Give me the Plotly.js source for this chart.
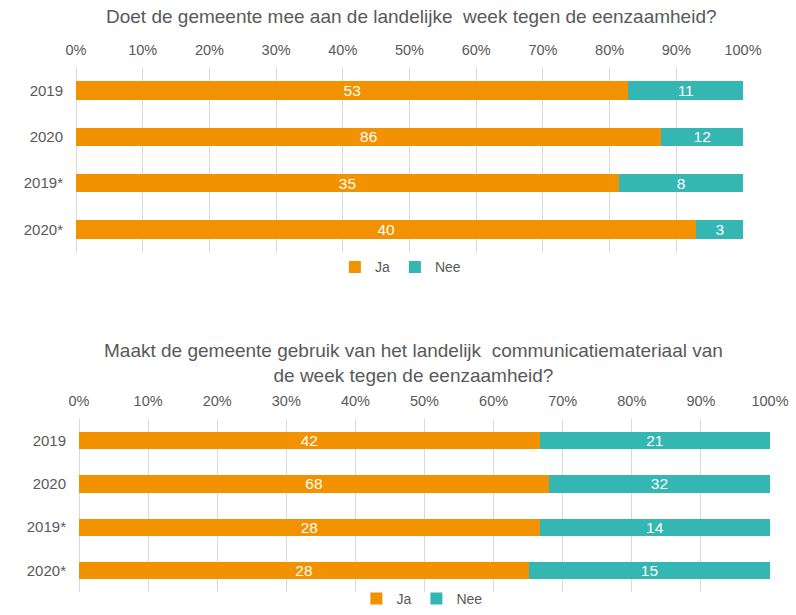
<!DOCTYPE html>
<html>
<head>
<meta charset="utf-8">
<script src="https://cdn.plot.ly/plotly-3.0.1.min.js"></script>
<style>html,body{margin:0;padding:0;background:#fff;}#chart{width:796px;height:615px;}</style>
</head>
<body>
<div id="chart"></div>
<script>
const categories = ['2019', '2020', '2019*', '2020*'];
const jaTop = [53, 86, 35, 40];
const neeTop = [11, 12, 8, 3];
const jaBottom = [42, 68, 28, 28];
const neeBottom = [21, 32, 14, 15];
const tickValues = [0, 10, 20, 30, 40, 50, 60, 70, 80, 90, 100];
const titleTop = 'Doet de gemeente mee aan de landelijke \u00a0week tegen de eenzaamheid?';
const titleBottom = 'Maakt de gemeente gebruik van het landelijk \u00a0communicatiemateriaal van<br>de week tegen de eenzaamheid?';

const ORANGE = '#F39200';
const TEAL = '#34B6B3';
const GREY = '#595959';
const FONT = "'Liberation Sans', Arial, sans-serif";

function barTrace(name, vals, color, xa, ya, legend) {
  return {
    type: 'bar', orientation: 'h', name: name,
    y: categories, x: vals,
    xaxis: xa, yaxis: ya, legend: legend,
    marker: {color: color, line: {width: 0}},
    text: vals.map(String), textposition: 'inside', insidetextanchor: 'middle', textangle: 0,
    constraintext: 'none',
    textfont: {color: '#ffffff', size: 15.5, family: FONT},
    hoverinfo: 'x+y+name'
  };
}

const data = [
  barTrace('Ja', jaTop, ORANGE, 'x', 'y', 'legend'),
  barTrace('Nee', neeTop, TEAL, 'x', 'y', 'legend'),
  barTrace('Ja', jaBottom, ORANGE, 'x2', 'y2', 'legend2'),
  barTrace('Nee', neeBottom, TEAL, 'x2', 'y2', 'legend2')
];

function xax(domain, anchor) {
  return {
    domain: domain, anchor: anchor, side: 'top', range: [0, 100],
    tickvals: tickValues, ticktext: tickValues.map(v => v + '%'),
    showgrid: true, gridcolor: '#D9D9D9', gridwidth: 1,
    zeroline: true, zerolinecolor: '#D9D9D9', zerolinewidth: 1,
    showline: false, ticks: 'outside', ticklen: 6, tickcolor: 'rgba(0,0,0,0)',
    tickfont: {size: 14.5, color: GREY, family: FONT}, fixedrange: true
  };
}
function yax(domain, anchor) {
  return {
    domain: domain, anchor: anchor, type: 'category',
    categoryorder: 'array', categoryarray: categories, autorange: 'reversed',
    showgrid: false, zeroline: false, showline: false,
    ticks: 'outside', ticklen: 9, tickcolor: 'rgba(0,0,0,0)',
    tickfont: {size: 15, color: GREY, family: FONT}, fixedrange: true
  };
}

const layout = {
  width: 796, height: 615,
  margin: {l: 0, r: 0, t: 0, b: 0},
  paper_bgcolor: '#ffffff', plot_bgcolor: '#ffffff',
  font: {family: FONT, color: GREY},
  barmode: 'stack', barnorm: 'percent', bargap: 0.6,
  showlegend: true,
  xaxis: xax([76/796, 743/796], 'y'),
  yaxis: yax([1 - 255/615, 1 - 68/615], 'x'),
  xaxis2: xax([79/796, 770/796], 'y2'),
  yaxis2: yax([1 - 598/615, 1 - 423/615], 'x2'),
  legend: {orientation: 'h', x: 0.503, xanchor: 'center', y: 1 - 270/615, yanchor: 'middle',
    font: {size: 14, color: GREY, family: FONT}, traceorder: 'normal', itemwidth: 30, bgcolor: 'rgba(0,0,0,0)'},
  legend2: {orientation: 'h', x: 0.53, xanchor: 'center', y: 1 - 605/615, yanchor: 'middle',
    font: {size: 14, color: GREY, family: FONT}, traceorder: 'normal', itemwidth: 30, bgcolor: 'rgba(0,0,0,0)'},
  annotations: [
    {text: titleTop, xref: 'paper', yref: 'paper', x: 411/796, y: 1 - 17/615, xanchor: 'center', yanchor: 'middle',
     showarrow: false, font: {size: 19, color: GREY, family: FONT}},
    {text: titleBottom, xref: 'paper', yref: 'paper', x: 413/796, y: 1 - 367/615, xanchor: 'center', yanchor: 'middle',
     showarrow: false, font: {size: 19, color: GREY, family: FONT}}
  ]
};

Plotly.newPlot('chart', data, layout, {displayModeBar: false, staticPlot: true});
</script>
</body>
</html>
